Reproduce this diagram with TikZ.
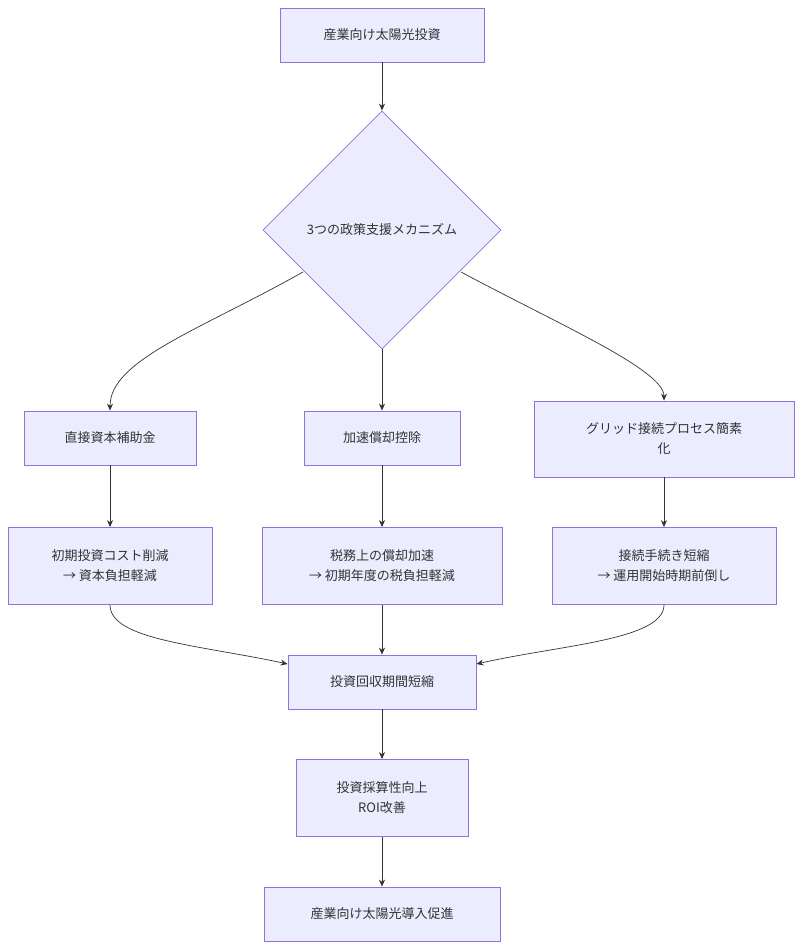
\documentclass[tikz,border=0pt]{standalone}
\usepackage{fontspec}
\setmainfont{Noto Sans CJK JP}
\usetikzlibrary{shapes.geometric,arrows.meta}
\definecolor{nfill}{HTML}{ECECFF}
\definecolor{nstroke}{HTML}{9370DB}
\definecolor{edge}{HTML}{333333}
\begin{document}
\begin{tikzpicture}[x=1pt,y=-1pt,
  box/.style={draw=nstroke,fill=nfill,line width=0.8pt,align=center,font=\fontsize{13}{20}\selectfont,text=edge,inner sep=0pt},
  arr/.style={draw=edge,line width=0.7pt,-{Stealth[length=7pt,width=6pt]}}]
\useasboundingbox (0,0) rectangle (802,950);
\node[box,minimum width=204,minimum height=54] (top) at (382,35) {産業向け太陽光投資};
\node[box,diamond,minimum width=238,minimum height=238,aspect=1] (dia) at (382,230) {3つの政策支援メカニズム};
\node[box,minimum width=172,minimum height=54] (a) at (110,438) {直接資本補助金};
\node[box,minimum width=156,minimum height=54] (b) at (382,438) {加速償却控除};
\node[box,minimum width=260,minimum height=76] (c) at (664,439) {グリッド接続プロセス簡素\\化};
\node[box,minimum width=204,minimum height=77] (a2) at (110,566) {初期投資コスト削減\\→ 資本負担軽減};
\node[box,minimum width=240,minimum height=77] (b2) at (382,566) {税務上の償却加速\\→ 初期年度の税負担軽減};
\node[box,minimum width=224,minimum height=77] (c2) at (664,566) {接続手続き短縮\\→ 運用開始時期前倒し};
\node[box,minimum width=188,minimum height=54] (d) at (382,682) {投資回収期間短縮};
\node[box,minimum width=172,minimum height=77] (e) at (382,798) {投資採算性向上\\ROI改善};
\node[box,minimum width=236,minimum height=54] (f) at (382,914) {産業向け太陽光導入促進};
\draw[arr] (top) -- (dia);
\draw[arr] (303,272) .. controls (200,330) and (110,360) .. (a.north);
\draw[arr] (dia) -- (b);
\draw[arr] (461,272) .. controls (560,325) and (664,370) .. (c.north);
\draw[arr] (a) -- (a2);
\draw[arr] (b) -- (b2);
\draw[arr] (c) -- (c2);
\draw[arr] (a2.south) .. controls (110,640) and (200,645) .. (d.west |- 0,664);
\draw[arr] (b2) -- (d);
\draw[arr] (c2.south) .. controls (664,640) and (560,645) .. (d.east |- 0,664);
\draw[arr] (d) -- (e);
\draw[arr] (e) -- (f);
\end{tikzpicture}
\end{document}
